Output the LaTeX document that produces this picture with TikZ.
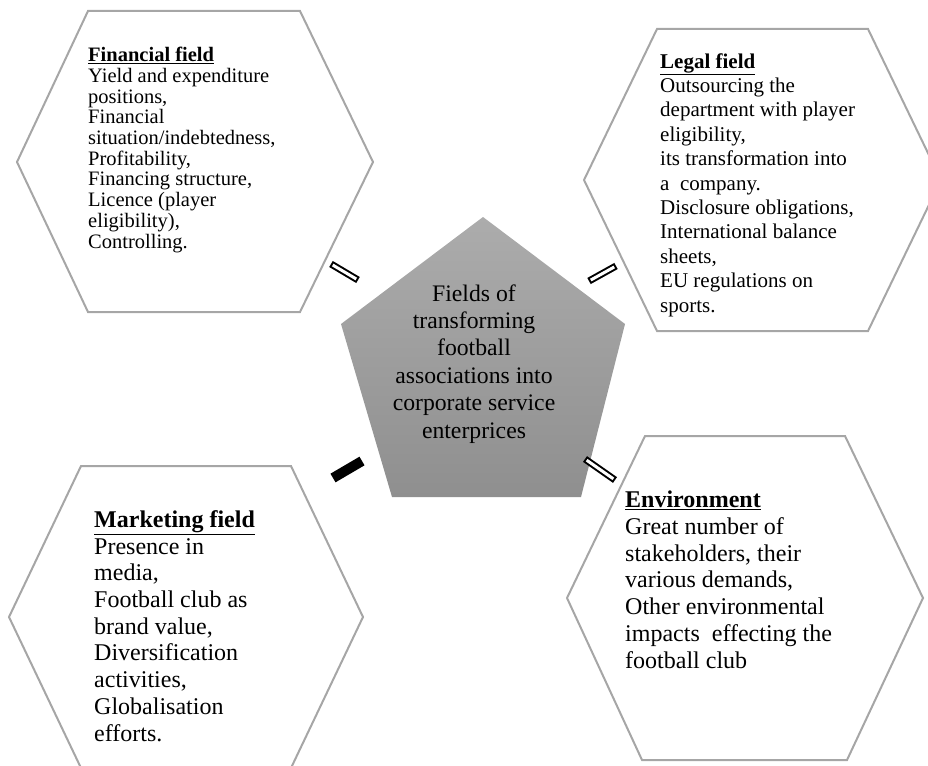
\documentclass[tikz,border=0pt]{standalone}
\usepackage{fontspec}
\setmainfont{Liberation Serif}
\definecolor{hexgray}{RGB}{166,166,166}
\definecolor{pentop}{RGB}{172,172,172}
\definecolor{penbot}{RGB}{143,143,143}
\tikzset{
  hexbox/.style={draw=hexgray, line width=2pt, fill=white},
  fieldtext/.style={anchor=base west, align=left, inner sep=0pt},
  barouter/.style={draw=black, line width=7pt},
  barinner/.style={draw=white, line width=3pt, shorten >=2pt, shorten <=2pt},
  solidbar/.style={draw=black, line width=10pt},
}
\begin{document}
\begin{tikzpicture}[x=1pt,y=-1pt]
\useasboundingbox (0,0) rectangle (928,765);
\clip (0,0) rectangle (928,765);
% hexagons
\draw[hexbox] (17,162) -- (88,11) -- (300,11) -- (373,162) -- (300,312) -- (88,312) -- cycle;
\draw[hexbox] (584,180) -- (657,29) -- (868,29) -- (941,180) -- (868,331) -- (657,331) -- cycle;
\draw[hexbox] (9,617) -- (81,466) -- (291,466) -- (363,617) -- (291,768) -- (81,768) -- cycle;
\draw[hexbox] (567,598) -- (645,436) -- (845,436) -- (923,598) -- (847,760) -- (642,760) -- cycle;
% pentagon
\shade[top color=pentop, bottom color=penbot] (483,217) -- (625,324) -- (581,497) -- (392,497) -- (341,324) -- cycle;
\node[align=center, inner sep=0pt, anchor=base, font={\fontsize{23.7}{27.4}\selectfont}] (center) at (474,438)
  {Fields of\\transforming\\football\\associations into\\corporate service\\enterprices};
% texts
\node[fieldtext, font={\fontsize{20.5}{20.7}\selectfont}] (fin) at (88,248) {%
  \underline{\textbf{Financial field}}\\
  Yield and expenditure\\
  positions,\\
  Financial\\
  situation/indebtedness,\\
  Profitability,\\
  Financing structure,\\
  Licence (player\\
  eligibility),\\
  Controlling.};
\node[fieldtext, font={\fontsize{21}{24.4}\selectfont}] (leg) at (660,312) {%
  \underline{\textbf{Legal field}}\\
  Outsourcing the\\
  department with player\\
  eligibility,\\
  its transformation into\\
  a\ \ company.\\
  Disclosure obligations,\\
  International balance\\
  sheets,\\
  EU regulations on\\
  sports.};
\node[fieldtext, font={\fontsize{24}{26.7}\selectfont}] (mkt) at (94,741) {%
  \underline{\textbf{Marketing field}}\\
  Presence in\\
  media,\\
  Football club as\\
  brand value,\\
  Diversification\\
  activities,\\
  Globalisation\\
  efforts.};
\node[fieldtext, font={\fontsize{24}{26.7}\selectfont}] (env) at (625,668) {%
  \underline{\textbf{Environment}}\\
  Great number of\\
  stakeholders, their\\
  various demands,\\
  Other environmental\\
  impacts\ \ effecting the\\
  football club};
% connector bars
\coordinate (f1) at (331,264); \coordinate (f2) at (358,280);
\coordinate (l1) at (589,281); \coordinate (l2) at (616,266);
\coordinate (e1) at (585,459); \coordinate (e2) at (615,480);
\coordinate (m1) at (333,478); \coordinate (m2) at (362,461);
\draw[barouter] (f1) -- (f2);
\draw[barinner] (f1) -- (f2);
\draw[barouter] (l1) -- (l2);
\draw[barinner] (l1) -- (l2);
\draw[barouter] (e1) -- (e2);
\draw[barinner] (e1) -- (e2);
\draw[solidbar] (m1) -- (m2);
\end{tikzpicture}
\end{document}
